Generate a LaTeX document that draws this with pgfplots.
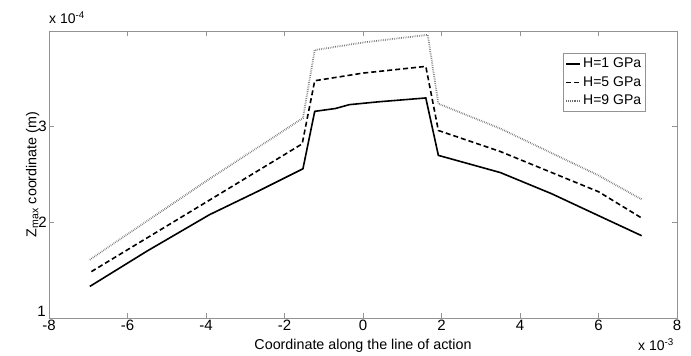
\documentclass[border=0pt]{standalone}
\usepackage{fontspec}
\setmainfont{Liberation Sans}
\usepackage{pgfplots}
\pgfplotsset{compat=1.18}
\begin{document}
\fontsize{15}{17}\selectfont
\begin{tikzpicture}
\begin{axis}[
  scale only axis, width=628pt, height=287pt,
  xmin=-8, xmax=8, ymin=1, ymax=4,
  xtick={-8,-6,...,8}, ytick={1,2,3}, yticklabels={{},2,3},
  axis line style={draw=gray!85},
  tick style={gray!85, thin},
  major tick length=5pt,
  tick align=inside,
  /pgf/number format/assume math mode=true,
  ticklabel style={font=\fontsize{15}{17}\selectfont},
  xticklabel style={inner sep=1pt, yshift=-1pt},
  yticklabel style={inner sep=2pt},
  xlabel={Coordinate along the line of action},
  xlabel style={font=\fontsize{14.3}{16}\selectfont, yshift=-2pt},
  ylabel={Z\textsubscript{\fontsize{10.5}{12}\selectfont max} coordinate (m)},
  ylabel style={font=\fontsize{14.3}{16}\selectfont, yshift=-8pt},
  legend style={at={(0.818,0.922)}, anchor=north west, draw=gray!85,
    font=\fontsize{14}{16}\selectfont, row sep=2.5pt, inner sep=2.5pt},
  legend cell align=left,
  legend image code/.code={\draw[#1] (0pt,0pt) -- (14pt,0pt);},
  clip=false,
]
\addplot[black, line width=1.6pt] coordinates {
(-6.96,1.33) (-5.5,1.70) (-3.91,2.08) (-2.7,2.32) (-1.53,2.56)
(-1.23,3.16) (-0.7,3.19) (-0.35,3.23) (0.4,3.26) (1.6,3.30)
(1.92,2.70) (3.5,2.52) (4.8,2.30) (6.0,2.07) (7.1,1.86)};
\addlegendentry{H=1 GPa}
\addplot[black, line width=1.6pt, dash pattern=on 5pt off 3pt] coordinates {
(-6.92,1.485) (-4,2.21) (-1.55,2.82)
(-1.23,3.48) (0,3.56) (1.6,3.63)
(1.92,2.96) (3.5,2.74) (6.0,2.32) (7.08,2.05)};
\addlegendentry{H=5 GPa}
\addplot[gray!85!black, line width=1.8pt, dash pattern=on 0.6pt off 1.2pt] coordinates {
(-6.96,1.61) (-4,2.43) (-1.53,3.09)
(-1.23,3.80) (0,3.88) (1.65,3.96)
(1.92,3.24) (3.5,2.98) (6.0,2.49) (7.1,2.24)};
\addlegendentry{H=9 GPa}
\node[anchor=south east, inner sep=0pt, font=\fontsize{15}{17}\selectfont] at (rel axis cs:0,0) [xshift=-3pt, yshift=1pt] {1};
\node[anchor=south west, inner sep=0pt, font=\fontsize{14}{16}\selectfont] at (rel axis cs:0,1) [yshift=7pt] {x 10\textsuperscript{-4}};
\node[anchor=north west, inner sep=0pt, font=\fontsize{14}{16}\selectfont] at (rel axis cs:1,0) [xshift=-39pt, yshift=-20pt] {x 10\textsuperscript{-3}};
\end{axis}
\pgfresetboundingbox
\path[use as bounding box] (-49pt,-38pt) rectangle (642pt,318pt);
\end{tikzpicture}
\end{document}
